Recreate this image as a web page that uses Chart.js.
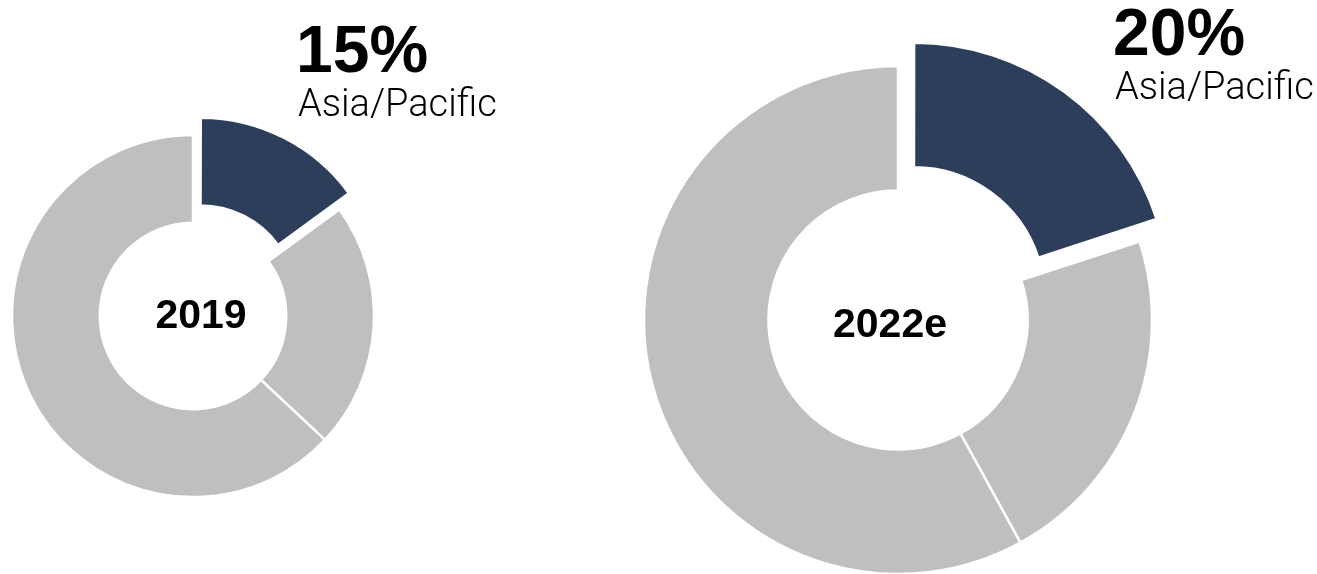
<!DOCTYPE html>
<html>
<head>
<meta charset="utf-8">
<script src="https://cdn.jsdelivr.net/npm/chart.js@4.4.1/dist/chart.umd.min.js"></script>
<style>
  body { margin: 0; background: #fff; width: 1317px; height: 574px; overflow: hidden; position: relative; }
  .donut { position: absolute; }
</style>
</head>
<body>
<div class="donut" style="left:-127px; top:-4px; width:640px; height:640px;"><canvas id="chart2019"></canvas></div>
<div class="donut" style="left:478px; top:-10px; width:840px; height:660px;"><canvas id="chart2022"></canvas></div>
<script>
// regional split of the market, Asia/Pacific first
var regions = ["Asia/Pacific", "Region B", "Region C"];
var values2019 = [15, 22, 63];
var values2022 = [20, 22, 58];
var years = ["2019", "2022e"];

var navy = "#2d3e5b";
var grey = "#bfbfbf";

// draws the year in the hole and the big share callout
function labelsPlugin(year, share, yearPos, sharePos) {
  return {
    id: "labels",
    afterDraw: function (chart) {
      var ctx = chart.ctx;
      var cx = (chart.chartArea.left + chart.chartArea.right) / 2;
      var cy = (chart.chartArea.top + chart.chartArea.bottom) / 2;
      ctx.save();
      ctx.fillStyle = "#000";
      ctx.textBaseline = "alphabetic";

      ctx.textAlign = "center";
      ctx.font = "bold 41px 'Liberation Sans', Arial, sans-serif";
      ctx.fillText(year, cx + yearPos[0], cy + yearPos[1]);

      ctx.textAlign = "left";
      ctx.font = "bold 66px 'Liberation Sans', Arial, sans-serif";
      ctx.fillText(share + "%", cx + sharePos[0], cy + sharePos[1]);
      ctx.font = "300 38px Roboto, 'Liberation Sans', sans-serif";
      ctx.fillText(regions[0], cx + sharePos[0] + 2, cy + sharePos[1] + 44);
      ctx.restore();
    }
  };
}

function makeDonut(id, values, year, radius, cutout, offset, yearPos, sharePos) {
  return new Chart(document.getElementById(id), {
    type: "doughnut",
    data: {
      labels: regions,
      datasets: [{
        data: values,
        backgroundColor: [navy, grey, grey],
        borderColor: "#fff",
        borderWidth: 2.5,
        offset: [offset, 0, 0]
      }]
    },
    options: {
      responsive: true,
      maintainAspectRatio: false,
      animation: false,
      events: [],
      radius: radius,
      cutout: cutout,
      plugins: {
        legend: { display: false },
        tooltip: { enabled: false }
      }
    },
    plugins: [labelsPlugin(year, values[0], yearPos, sharePos)]
  });
}

makeDonut("chart2019", values2019, years[0], 181, "51.5%", 64, [8, 12], [103, -244]);
makeDonut("chart2022", values2022, years[1], 254, "51%", 108, [-8, 17], [215, -265]);
</script>
</body>
</html>
